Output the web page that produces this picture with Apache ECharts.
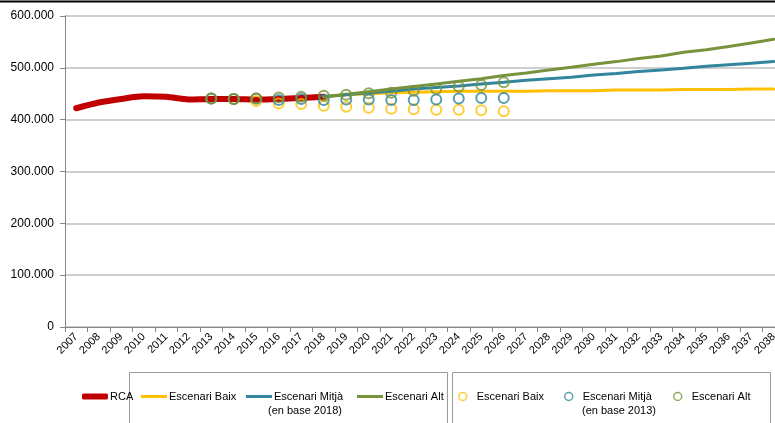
<!DOCTYPE html>
<html>
<head>
<meta charset="utf-8">
<script src="https://cdn.jsdelivr.net/npm/echarts@6/dist/echarts.min.js"></script>
<style>
	html,body{margin:0;padding:0;background:#fff;overflow:hidden;}
	#chart{width:800px;height:423px;}
</style>
</head>
<body>
<div id="chart"></div>
<script>
/*dades*/
const years = ["2007","2008","2009","2010","2011","2012","2013","2014","2015","2016","2017","2018","2019","2020","2021","2022",
			   "2023","2024","2025","2026","2027","2028","2029","2030","2031","2032","2033","2034","2035","2036","2037","2038"];

const rcaYears = ["2007","2008","2009","2010","2011","2012","2013","2014","2015","2016","2017","2018"];
const rca = [422000,433000,440000,445000,444000,439000,440000,440000,439000,440000,442000,444000];

// escenaris en base 2018 (línies)
const years2018 = ["2018","2019","2020","2021","2022","2023","2024","2025","2026","2027","2028",
				   "2029","2030","2031","2032","2033","2034","2035","2036","2037","2038"];
const baix2018  = [444000,448000,450000,452000,453000,454000,455000,455000,455000,455000,456000,
				   456000,456000,457000,457000,457000,458000,458000,458000,459000,459000];
const mitja2018 = [444000,448000,452000,455000,459000,462000,465000,469000,472000,476000,479000,
				   482000,486000,489000,493000,496000,499000,503000,506000,509000,512000];
const alt2018   = [444000,449000,454000,459000,464000,469000,474000,479000,485000,490000,496000,
				   501000,507000,512000,518000,523000,530000,535000,541000,548000,555000];

// escenaris en base 2013 (cercles)
const years2013 = ["2013","2014","2015","2016","2017","2018","2019","2020","2021","2022","2023","2024","2025","2026"];
const baix2013  = [441000,440000,436000,431000,430000,427000,425000,423000,421000,420000,419000,419000,418000,416000];
const mitja2013 = [441000,440000,441000,438000,440000,438000,439000,439000,438000,438000,439000,441000,442000,442000];
const alt2013   = [441000,440000,441000,443000,444000,446000,448000,451000,452000,456000,459000,464000,467000,472000];

const yTicks = {min:0,max:600000,interval:100000};

const colors = {rca:"#C00000",baix:"#FFC000",mitja:"#31859C",alt:"#77933C"};
const font = "'Liberation Sans', Arial, sans-serif";

const pairs = (xs,vals)=> xs.map((x,i)=>[x,vals[i]]);
const fmt = v => String(v).replace(/\B(?=(\d{3})+(?!\d))/g,".");

const lineSerie = (name,xs,vals,color,width,smooth)=>({
	name,type:"line",data:pairs(xs,vals),
	symbol:"none",smooth:smooth||false,
	lineStyle:{color,width,cap:"round",join:"round"},
	itemStyle:{color},
	z:2
});
const dotSerie = (name,xs,vals,color)=>({
	name,type:"scatter",data:pairs(xs,vals),
	symbol:"circle",symbolSize:10,
	itemStyle:{color:"transparent",borderColor:color,borderWidth:2},
	z:4
});

const txt = {color:"#000",fontSize:11,fontFamily:font};

const legendLine = (name,color,left,h)=>({
	data:[{name,icon:h>4?"roundRect":"rect"}],
	left,top:386,itemWidth:26,itemHeight:h,itemGap:0,
	textStyle:Object.assign({padding:[0,0,0,-3]},txt),
	selectedMode:false
});
const legendDot = (name,color,left)=>({
	data:[{name,icon:"circle",itemStyle:{color:"transparent",borderColor:color,borderWidth:1.5}}],
	left,top:386,itemWidth:18,itemHeight:8,itemGap:0,
	formatter:n=>n.replace(" (2013)",""),
	textStyle:txt,
	selectedMode:false
});

const chart = echarts.init(document.getElementById("chart"),null,{renderer:"canvas"});

chart.setOption({
	animation:false,
	backgroundColor:"#fff",
	grid:{left:65,top:16,width:720,height:311,containLabel:false},
	xAxis:{
		type:"category",data:years,boundaryGap:true,
		axisLine:{lineStyle:{color:"#868686",width:1}},
		axisTick:{show:true,length:5,lineStyle:{color:"#868686"}},
		axisLabel:{rotate:45,interval:0,margin:8,color:"#000",fontSize:11,fontFamily:font},
		splitLine:{show:false}
	},
	yAxis:{
		type:"value",min:yTicks.min,max:yTicks.max,interval:yTicks.interval,
		axisLine:{show:true,lineStyle:{color:"#868686",width:1}},
		axisTick:{show:true,length:5,lineStyle:{color:"#868686"}},
		axisLabel:{margin:11,color:"#000",fontSize:12,fontFamily:font,formatter:fmt},
		splitLine:{show:true,lineStyle:{color:"#BFBFBF",width:1.5}}
	},
	legend:[
		legendLine("RCA",colors.rca,77,6),
		legendLine("Escenari Baix",colors.baix,136,3),
		legendLine("Escenari Mitjà",colors.mitja,241,3),
		legendLine("Escenari Alt",colors.alt,352,3),
		legendDot("Escenari Baix (2013)",colors.baix,453),
		legendDot("Escenari Mitjà (2013)",colors.mitja,559),
		legendDot("Escenari Alt (2013)",colors.alt,668)
	],
	graphic:[
		{type:"line",shape:{x1:0,y1:1.5,x2:800,y2:1.5},style:{stroke:"#000",lineWidth:2}},
		{type:"polyline",shape:{points:[[129.5,430],[129.5,372.5],[447.5,372.5],[447.5,430]]},style:{stroke:"#9A9A9A",lineWidth:1,fill:null}},
		{type:"polyline",shape:{points:[[452.5,430],[452.5,372.5],[770.5,372.5],[770.5,430]]},style:{stroke:"#9A9A9A",lineWidth:1,fill:null}},
		{type:"text",x:305,y:405,style:{text:"(en base 2018)",fill:"#000",font:"11px "+font,textAlign:"center"}},
		{type:"text",x:619,y:405,style:{text:"(en base 2013)",fill:"#000",font:"11px "+font,textAlign:"center"}}
	],
	series:[
		lineSerie("RCA",rcaYears,rca,colors.rca,6,0.3),
		lineSerie("Escenari Baix",years2018,baix2018,colors.baix,3),
		lineSerie("Escenari Mitjà",years2018,mitja2018,colors.mitja,3),
		lineSerie("Escenari Alt",years2018,alt2018,colors.alt,3),
		dotSerie("Escenari Baix (2013)",years2013,baix2013,colors.baix),
		dotSerie("Escenari Mitjà (2013)",years2013,mitja2013,colors.mitja),
		dotSerie("Escenari Alt (2013)",years2013,alt2013,colors.alt)
	]
});
</script>
</body>
</html>
